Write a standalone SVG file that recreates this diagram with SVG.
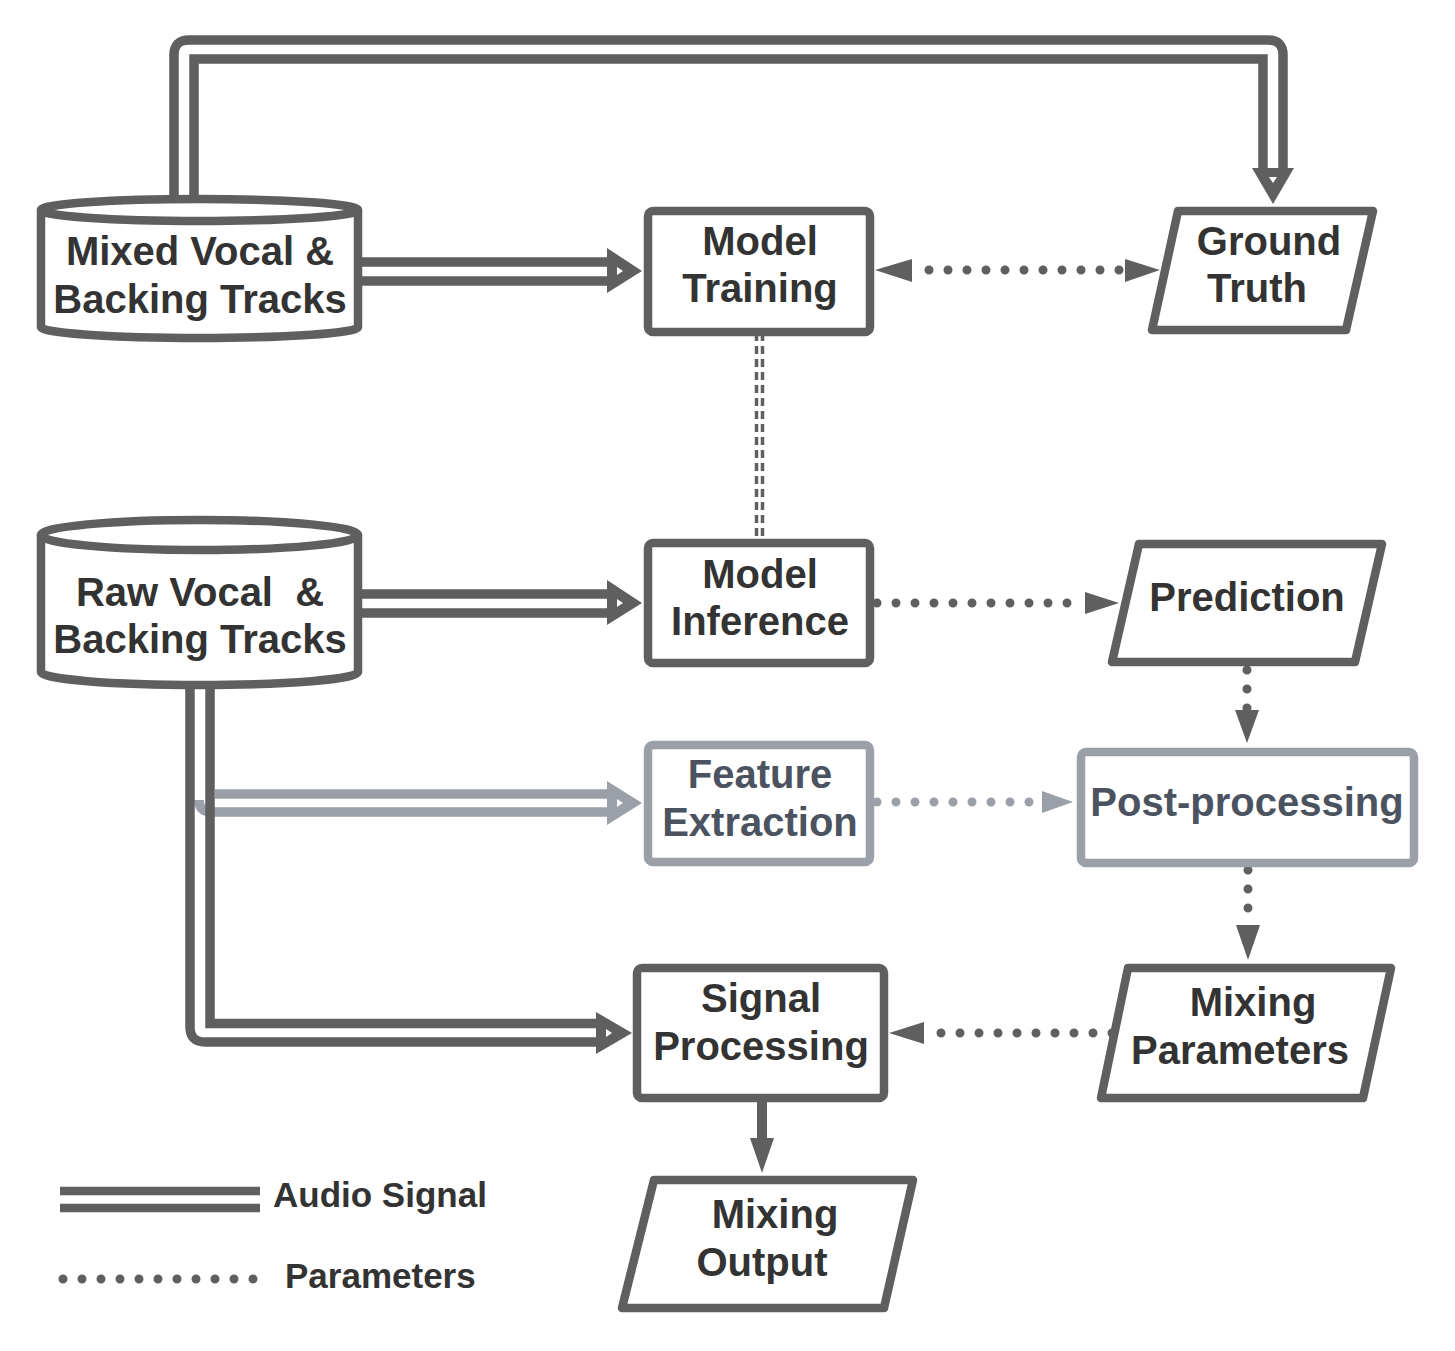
<svg xmlns="http://www.w3.org/2000/svg" width="1455" height="1351" viewBox="0 0 1455 1351">
<style>
.dk{fill:none;stroke:#5f5f5f;stroke-width:9.5}
.lt{fill:none;stroke:#9a9fa8;stroke-width:9.5}
.ah{fill:#5f5f5f}
.ahl{fill:#9a9fa8}
.wn{fill:#fff}
.dot{fill:none;stroke:#5f5f5f;stroke-width:9;stroke-linecap:round;stroke-dasharray:0 19}
.dotl{fill:none;stroke:#9a9fa8;stroke-width:9;stroke-linecap:round;stroke-dasharray:0 19}
.dash{fill:none;stroke:#5f5f5f;stroke-width:3.5;stroke-dasharray:8 5}
.box{fill:#fff;stroke:#5f5f5f;stroke-width:8.5;stroke-linejoin:round}
.boxl{fill:#fff;stroke:#9a9fa8;stroke-width:8.5;stroke-linejoin:round}
.t{font-family:"Liberation Sans",Arial,sans-serif;font-weight:bold;font-size:40px;fill:#333;text-anchor:middle}
.tl{font-family:"Liberation Sans",Arial,sans-serif;font-weight:bold;font-size:40px;fill:#4b5260;text-anchor:middle}
.lg{font-family:"Liberation Sans",Arial,sans-serif;font-weight:bold;font-size:35px;fill:#333}
</style>
<rect width="1455" height="1351" fill="#fff"/>
<g id="connectors">
  <path class="dk" d="M174 205 V55 Q174 40 189 40 H1268 Q1283 40 1283 55 V170" stroke-linejoin="round"/>
  <path class="dk" d="M194 205 V59 H1263 V170"/>
  <polygon class="ah" points="1252,168 1294,168 1273,204"/>
  <polygon class="wn" points="1269,177 1277,177 1273,183"/>
  <path class="dk" d="M355 262 H609 M355 281 H609"/>
  <polygon class="ah" points="607,248 607,293 642,271"/>
  <polygon class="wn" points="617,267 617,275 623,271"/>
  <path class="dk" d="M355 594 H609 M355 613 H609"/>
  <polygon class="ah" points="607,580 607,625 642,603"/>
  <polygon class="wn" points="617,599 617,607 623,603"/>
  <path class="lt" d="M215 794 H609"/>
  <path class="lt" d="M199 800 Q199 812 211 812 H609"/>
  <polygon class="ahl" points="607,781 607,825 642,803"/>
  <polygon class="wn" points="617,799 617,807 623,803"/>
  <path class="dk" d="M190 680 V1027 Q190 1042 205 1042 H598" stroke-linejoin="round"/>
  <path class="dk" d="M210 680 V1023.5 H598"/>
  <polygon class="ah" points="596,1012 596,1054 632,1033"/>
  <polygon class="wn" points="606,1029 606,1037 612,1033"/>
  <path class="dash" d="M756.5 333 V542 M762.5 333 V542"/>
  <line class="dot" x1="929" y1="270" x2="1125" y2="270"/>
  <polygon class="ah" points="875,270 912,259 912,282"/>
  <polygon class="ah" points="1125,259 1125,282 1160,270"/>
  <line class="dot" x1="877" y1="603" x2="1085" y2="603"/>
  <polygon class="ah" points="1085,592 1085,614 1119,603"/>
  <line class="dot" x1="1247" y1="670" x2="1247" y2="712"/>
  <polygon class="ah" points="1235,710 1259,710 1247,743"/>
  <line class="dotl" x1="877" y1="802" x2="1042" y2="802"/>
  <polygon class="ahl" points="1042,791 1042,813 1073,802"/>
  <line class="dot" x1="1248" y1="870" x2="1248" y2="926"/>
  <polygon class="ah" points="1236,925 1260,925 1248,960"/>
  <line class="dot" x1="1112" y1="1033" x2="924" y2="1033"/>
  <polygon class="ah" points="924,1022 924,1044 889,1033"/>
  <line x1="762" y1="1100" x2="762" y2="1140" stroke="#5f5f5f" stroke-width="10"/>
  <polygon class="ah" points="750,1138 774,1138 762,1173"/>
</g>
<g id="node-mixed">
  <path class="box" d="M41 210 V327 A158.5 11 0 0 0 358 327 V210 A158.5 11 0 0 0 41 210 Z"/>
  <path class="box" d="M41 210 A158.5 11 0 0 0 358 210" fill="none"/>
  <text class="t" x="200" y="265">Mixed Vocal &amp;</text>
  <text class="t" x="200" y="313">Backing Tracks</text>
</g>
<g id="node-raw">
  <path class="box" d="M41 535 V672 A158.5 13 0 0 0 358 672 V535 A158.5 15 0 0 0 41 535 Z"/>
  <path class="box" d="M41 535 A158.5 15 0 0 0 358 535" fill="none"/>
  <text class="t" x="200" y="606" style="white-space:pre">Raw Vocal  &amp;</text>
  <text class="t" x="200" y="653">Backing Tracks</text>
</g>
<g id="node-training">
  <rect class="box" x="648" y="211" width="222" height="121" rx="5"/>
  <text class="t" x="760" y="255">Model</text>
  <text class="t" x="760" y="302">Training</text>
</g>
<g id="node-groundtruth">
  <polygon class="box" points="1178,211 1373,211 1346,330 1152,330"/>
  <text class="t" x="1269" y="255">Ground</text>
  <text class="t" x="1257" y="302">Truth</text>
</g>
<g id="node-inference">
  <rect class="box" x="648" y="543" width="222" height="120" rx="5"/>
  <text class="t" x="760" y="588">Model</text>
  <text class="t" x="760" y="635">Inference</text>
</g>
<g id="node-prediction">
  <polygon class="box" points="1139,544 1382,544 1355,662 1112,662"/>
  <text class="t" x="1247" y="611">Prediction</text>
</g>
<g id="node-feature">
  <rect class="boxl" x="648" y="745" width="222" height="117" rx="5"/>
  <text class="tl" x="760" y="788">Feature</text>
  <text class="tl" x="760" y="836">Extraction</text>
</g>
<g id="node-post">
  <rect class="boxl" x="1081" y="752" width="333" height="111" rx="5"/>
  <text class="tl" x="1247" y="816">Post-processing</text>
</g>
<g id="node-signal">
  <rect class="box" x="637" y="968" width="247" height="130" rx="5"/>
  <text class="t" x="761" y="1012">Signal</text>
  <text class="t" x="761" y="1060">Processing</text>
</g>
<g id="node-mixparams">
  <polygon class="box" points="1128,968 1391,968 1363,1098 1101,1098"/>
  <text class="t" x="1253" y="1016">Mixing</text>
  <text class="t" x="1240" y="1064">Parameters</text>
</g>
<g id="node-output">
  <polygon class="box" points="654,1180 913,1180 884,1308 622,1308"/>
  <text class="t" x="775" y="1228">Mixing</text>
  <text class="t" x="762" y="1276">Output</text>
</g>
<g id="legend">
  <path d="M60 1191 H260 M60 1208 H260" stroke="#5f5f5f" stroke-width="8.5" fill="none"/>
  <text class="lg" x="273" y="1207">Audio Signal</text>
  <line class="dot" x1="63" y1="1279" x2="257" y2="1279"/>
  <text class="lg" x="285" y="1288">Parameters</text>
</g>
</svg>
